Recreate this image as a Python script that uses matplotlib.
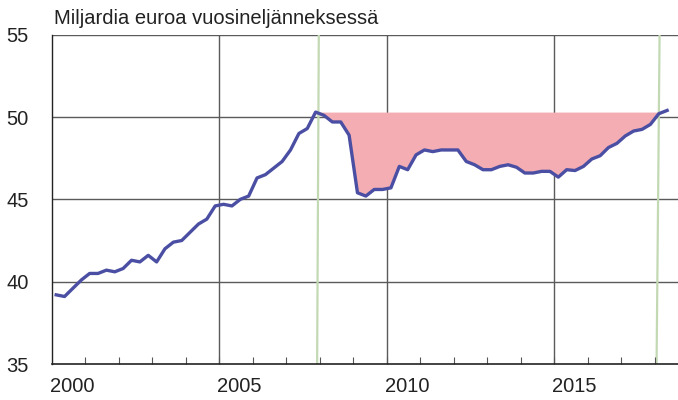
import matplotlib
matplotlib.use("Agg")
import matplotlib.pyplot as plt
import numpy as np

plt.rcParams['font.family'] = ['Liberation Sans', 'DejaVu Sans']

# Quarterly data 2000Q1 .. 2018Q2 (billion euro per quarter)
start_year = 2000
values = [
    39.2, 39.1, 39.6, 40.1, 40.5, 40.5, 40.7, 40.6,   # 2000-2001
    40.8, 41.3, 41.2, 41.6, 41.2, 42.0, 42.4, 42.5,   # 2002-2003
    43.0, 43.5, 43.8, 44.6, 44.7, 44.6, 45.0, 45.2,   # 2004-2005
    46.3, 46.5, 46.9, 47.3, 48.0, 49.0, 49.3, 50.3,   # 2006-2007
    50.1, 49.7, 49.7, 48.9, 45.4, 45.2, 45.6, 45.6,   # 2008-2009
    45.7, 47.0, 46.8, 47.7, 48.0, 47.9, 48.0, 48.0,   # 2010-2011
    48.0, 47.3, 47.1, 46.8, 46.8, 47.0, 47.1, 46.95,  # 2012-2013
    46.6, 46.6, 46.7, 46.7, 46.35, 46.8, 46.75, 47.0, # 2014-2015
    47.45, 47.65, 48.15, 48.4, 48.85, 49.15, 49.25, 49.55, # 2016-2017
    50.2, 50.4,                                        # 2018
]
period_markers_top = [2007.97, 2018.15]
period_markers_bottom = [2007.92, 2018.06]
peak_index = 31
y_ticks = [35, 40, 45, 50, 55]
x_labels = ['2000', '2005', '2010', '2015']
title = 'Miljardia euroa vuosineljänneksessä'

x = start_year + (np.arange(len(values)) + 0.5) / 4.0
y = np.array(values)
level = values[peak_index]

fig = plt.figure(figsize=(6.78, 4.0), dpi=100)
ax = fig.add_axes([52/678, 1 - 364/400, 1 - 52/678, (364 - 34.7)/400])

ax.set_xlim(2000, 2018.7)
ax.set_ylim(35, 55)

# grid
for yt in y_ticks[1:]:
    ax.axhline(yt, color='#5a5a5a', lw=1.0, zorder=1)
for lab in x_labels[1:]:
    ax.axvline(int(lab), color='#5a5a5a', lw=1.0, zorder=1)

# period markers (green)
for xt, xb in zip(period_markers_top, period_markers_bottom):
    ax.plot([xb, xt], [35, 55], color='#c3d9b4', lw=1.6, zorder=1.5)

# shaded gap
mask = (x >= x[peak_index]) & (y <= level + 1e-9)
ax.fill_between(x, y, level, where=mask, interpolate=True,
                color='#f4adb3', lw=0, zorder=2)

ax.plot(x, y, color='#4b4fa3', lw=2.4, zorder=3, solid_joinstyle='round')

# axes styling
for s in ['top', 'right']:
    ax.spines[s].set_visible(False)
ax.spines['left'].set_color('#222222')
ax.spines['bottom'].set_color('#222222')
ax.spines['left'].set_linewidth(1.0)
ax.spines['bottom'].set_linewidth(1.2)

ax.set_yticks(y_ticks)
ax.set_yticklabels([str(v) for v in y_ticks])
ax.tick_params(axis='y', length=0, pad=17, labelsize=14.5, colors='#222222')

ax.set_xticks([int(l) + 0.6 for l in x_labels])
ax.set_xticklabels(x_labels)
ax.tick_params(axis='x', which='major', length=0, pad=9, labelsize=14.5, colors='#222222')
ax.set_xticks(np.arange(2001, 2019), minor=True)
ax.tick_params(axis='x', which='minor', direction='in', length=5, width=0.8, color='#555555')

fig.text(54/678, 1 - 19/400, title, fontsize=14.5, color='#222222', va='center', ha='left')

fig.savefig('out.png', dpi=100)
